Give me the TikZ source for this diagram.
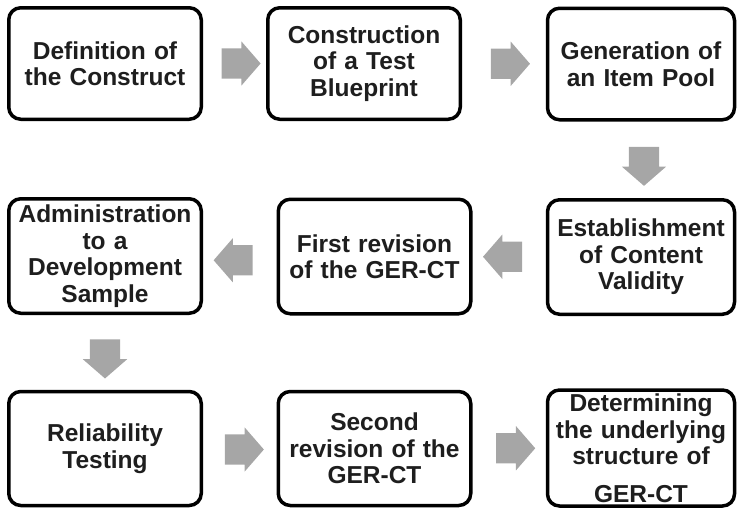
\documentclass[tikz,border=0pt]{standalone}
\usepackage{fontspec}
\setmainfont{Liberation Sans}
\usetikzlibrary{shapes.arrows,calc}
\definecolor{arrowgray}{HTML}{A6A6A6}
\definecolor{txt}{HTML}{1E1E1E}
\begin{document}
\begin{tikzpicture}[x=1pt,y=-1pt,
  stepbox/.style={draw=black, line width=3.5pt, rounded corners=12pt, fill=white,
    minimum width=192.5pt, minimum height=113pt, inner sep=0pt, text width=186pt,
    align=center, text=txt, font=\bfseries\fontsize{24.5}{26.5}\selectfont},
  narrowbox/.style={stepbox, minimum width=187pt, text width=182pt},
  blockarrow/.style={single arrow, fill=arrowgray, draw=none, inner xsep=0pt, inner ysep=15pt,
    minimum height=39pt, minimum width=44pt, single arrow head extend=7pt,
    single arrow tip angle=98, anchor=center}
]
\useasboundingbox (0,0) rectangle (737,509);
% row 1
\node[stepbox, minimum height=111.5pt] (A1) at (105,63.5) {Definition of\\the Construct};
\node[stepbox, minimum height=111.5pt] (A2) at (364,63.5) {Construction\\of a Test\\Blueprint};
\node[narrowbox, minimum height=111.5pt] (A3) at (641,64) {Generation of\\an Item Pool};
% row 2
\node[narrowbox, minimum height=114.5pt] (B3) at (641,257) {Establishment\\of Content\\Validity};
\node[stepbox, minimum height=114.5pt] (B2) at (374.5,256.5) {First revision\\of the GER-CT};
\node[stepbox, minimum height=114.5pt] (B1) at (105,256) {Administration\\to a\\Development\\Sample};
% row 3
\node[stepbox, minimum height=114pt] (C1) at (105,448.5) {Reliability\\Testing};
\node[stepbox, minimum height=114pt] (C2) at (374.5,448.5) {Second\\revision of the\\GER-CT};
\node[narrowbox, minimum height=116pt] (C3) at (641,448) {Determining\\the underlying\\structure of\\[11pt]GER-CT};
% block arrows
\node[blockarrow] (a1) at ($(A1.east)!0.5!(A2.west)$) {};
\node[blockarrow] (a2) at ($(A2.east)!0.5!(A3.west)$) {};
\node[blockarrow, rotate=-90] (a3) at ($(A3.south)!0.5!(B3.north)+(3,0)$) {};
\node[blockarrow, rotate=180] (a4) at ($(B3.west)!0.5!(B2.east)$) {};
\node[blockarrow, rotate=180] (a5) at ($(B2.west)!0.5!(B1.east)+(0,4)$) {};
\node[blockarrow, rotate=-90] (a6) at ($(B1.south)!0.5!(C1.north)$) {};
\node[blockarrow] (a7) at ($(C1.east)!0.5!(C2.west)+(-2,1)$) {};
\node[blockarrow] (a8) at ($(C2.east)!0.5!(C3.west)$) {};
\end{tikzpicture}
\end{document}
